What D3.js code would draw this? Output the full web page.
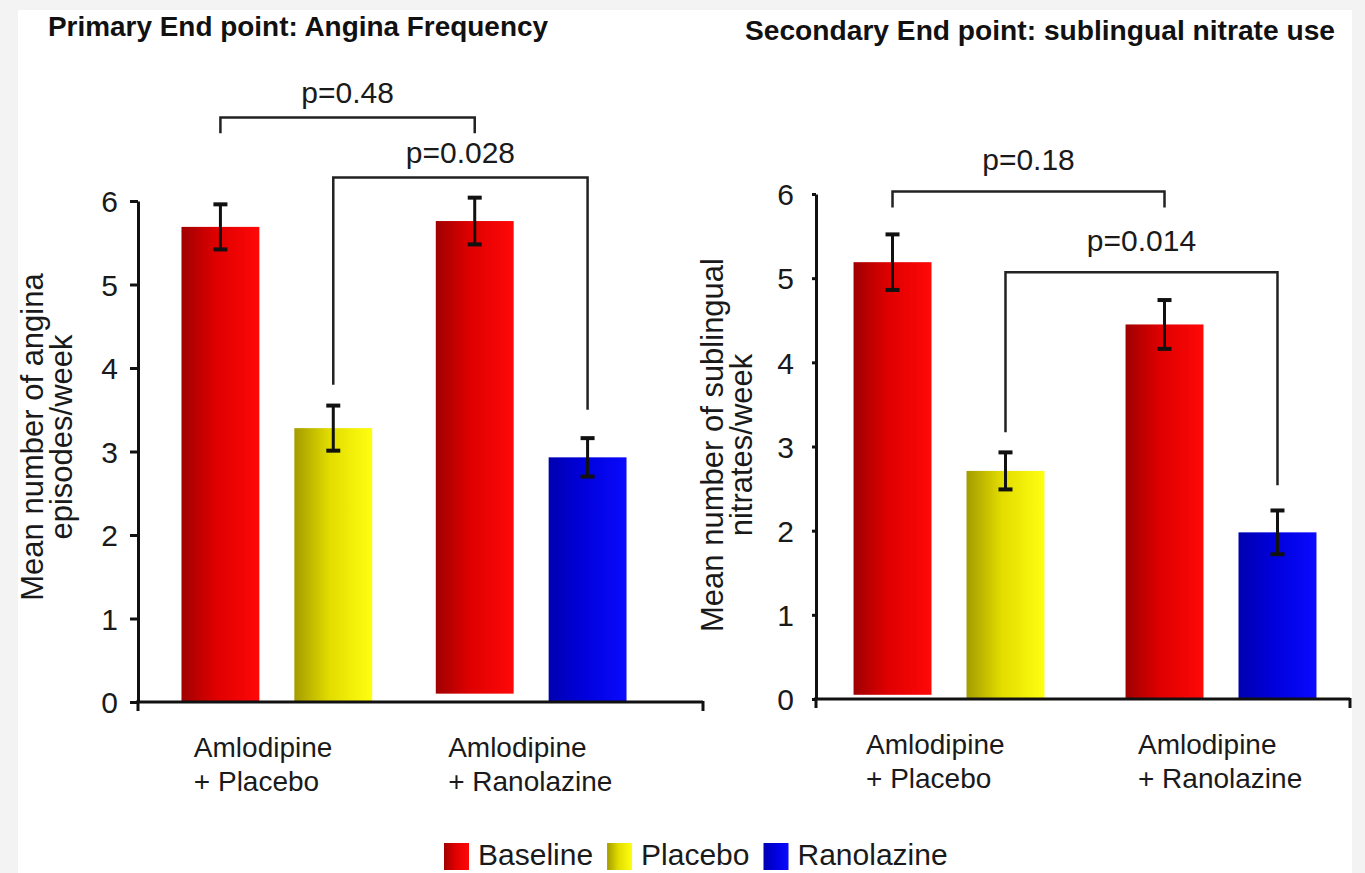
<!DOCTYPE html>
<html>
<head>
<meta charset="utf-8">
<script src="https://cdn.jsdelivr.net/npm/d3@7"></script>
<style>
  body { margin: 0; background: #f3f3f3; }
  svg { display: block; font-family: "Liberation Sans", Arial, sans-serif; }
  .axis path, .axis line { stroke: #111; stroke-width: 3; }
  .axis text { font-size: 30px; fill: #1a1a1a; }
</style>
</head>
<body>
<svg id="chart"></svg>
<script>
// ---- data ----
const groupLabels = [['Amlodipine', '+ Placebo'], ['Amlodipine', '+ Ranolazine']];
const seriesNames = ['Baseline', 'Placebo', 'Ranolazine'];
const barSeries = ['Baseline', 'Placebo', 'Baseline', 'Ranolazine'];
const barGroup = [0, 0, 1, 1];
const barSlot = ['a', 'b', 'a', 'b'];
const yTicks = [0, 1, 2, 3, 4, 5, 6];

// Primary end point: angina episodes / week
const anginaMeans = [5.69, 3.28, 5.76, 2.93];
const anginaErrors = [0.27, 0.27, 0.28, 0.23];
const anginaBarBase = [0, 0, 0.1, 0];
const anginaPValues = ['p=0.48', 'p=0.028'];
const anginaPairs = [[0, 2], [1, 3]];
const anginaBracketLevel = [7.0, 6.28];
const anginaBracketEnds = [[6.81, 6.81], [3.8, 3.5]];

// Secondary end point: sublingual nitrates / week
const nitrateMeans = [5.19, 2.71, 4.45, 1.98];
const nitrateErrors = [0.33, 0.22, 0.29, 0.26];
const nitrateBarBase = [0.05, 0, 0, 0];
const nitratePValues = ['p=0.18', 'p=0.014'];
const nitratePairs = [[0, 2], [1, 3]];
const nitrateBracketLevel = [6.03, 5.07];
const nitrateBracketEnds = [[5.84, 5.84], [3.17, 2.54]];

const W = 1365, H = 873;
const svg = d3.select('#chart').attr('width', W).attr('height', H);

svg.append('rect').attr('x', 18).attr('y', 10).attr('width', 1334).attr('height', H - 10).attr('fill', '#fff');

// gradients (dark on the left, bright on the right)
const colorStops = {
  Baseline: ['#a00000', '#e00000', '#ff0808'],
  Placebo: ['#a39c00', '#e2dc00', '#ffff10'],
  Ranolazine: ['#0000b0', '#0000dc', '#0a0aff']
};
const defs = svg.append('defs');
seriesNames.forEach(s => {
  const g = defs.append('linearGradient').attr('id', 'grad-' + s).attr('x1', 0).attr('x2', 1).attr('y1', 0).attr('y2', 0);
  g.append('stop').attr('offset', '0%').attr('stop-color', colorStops[s][0]);
  g.append('stop').attr('offset', '45%').attr('stop-color', colorStops[s][1]);
  g.append('stop').attr('offset', '100%').attr('stop-color', colorStops[s][2]);
});

function drawPanel(cfg) {
  const y = d3.scaleLinear().domain([0, 6]).range([cfg.y0, cfg.y6]);
  const x0 = d3.scaleBand().domain([0, 1]).range(cfg.xRange)
    .paddingInner(cfg.padInner).paddingOuter(cfg.padOuter);
  const x1 = d3.scaleBand().domain(['a', 'b']).range([0, x0.bandwidth()]).paddingInner(0.31);
  const cx = i => x0(barGroup[i]) + x1(barSlot[i]) + x1.bandwidth() / 2;

  const g = svg.append('g');

  // title
  g.append('text')
    .attr('x', cfg.titleX).attr('y', cfg.titleY)
    .attr('font-size', 28).attr('font-weight', 'bold').attr('fill', '#111')
    .attr('textLength', cfg.titleLen).attr('lengthAdjust', 'spacingAndGlyphs')
    .text(cfg.title);

  // bars
  g.append('g').selectAll('rect')
    .data(cfg.means)
    .join('rect')
      .attr('x', (d, i) => x0(barGroup[i]) + x1(barSlot[i]))
      .attr('width', x1.bandwidth())
      .attr('y', d => y(d))
      .attr('height', (d, i) => y(cfg.base[i]) - y(d))
      .attr('fill', (d, i) => `url(#grad-${barSeries[i]})`);

  // error bars
  const eb = g.append('g').attr('stroke', '#111').attr('stroke-width', 3);
  cfg.means.forEach((m, i) => {
    const c = cx(i), e = cfg.errors[i];
    eb.append('line').attr('x1', c).attr('x2', c).attr('y1', y(m + e)).attr('y2', y(m - e));
    eb.append('line').attr('x1', c - 7).attr('x2', c + 7).attr('y1', y(m + e)).attr('y2', y(m + e)).attr('stroke-width', 4);
    eb.append('line').attr('x1', c - 7).attr('x2', c + 7).attr('y1', y(m - e)).attr('y2', y(m - e)).attr('stroke-width', 4);
  });

  // y axis
  const yAxis = d3.axisLeft(y).tickValues(yTicks).tickFormat(d3.format('d'))
    .tickSize(cfg.tickSize).tickSizeOuter(0).tickPadding(cfg.tickPad);
  const yAxisG = g.append('g').attr('class', 'axis')
    .attr('transform', `translate(${cfg.xRange[0]},0)`)
    .call(yAxis);
  yAxisG.selectAll('text').attr('dy', '0.36em');

  // x axis line with small end ticks
  const xa = g.append('g').attr('stroke', '#111').attr('stroke-width', 3);
  xa.append('line').attr('x1', cfg.xRange[0] - 2).attr('x2', cfg.xEnd).attr('y1', y(0)).attr('y2', y(0));
  xa.append('line').attr('x1', cfg.xRange[0]).attr('x2', cfg.xRange[0]).attr('y1', y(0)).attr('y2', y(0) + 9);
  xa.append('line').attr('x1', cfg.xEnd).attr('x2', cfg.xEnd).attr('y1', y(0) - 1).attr('y2', y(0) + 9);

  // group labels
  groupLabels.forEach((lines, k) => {
    const lx = x0(k) + x0.bandwidth() / 2 - 83;
    const t = g.append('text')
      .attr('x', lx)
      .attr('y', y(0) + 55)
      .attr('font-size', 28).attr('fill', '#1a1a1a');
    lines.forEach((ln, j) => t.append('tspan').attr('x', lx).attr('dy', j ? 34 : 0).text(ln));
  });

  // y-axis title
  const yt = g.append('text')
    .attr('transform', `translate(${cfg.yTitleX},${cfg.yTitleY}) rotate(-90)`)
    .attr('text-anchor', 'middle').attr('font-size', 31).attr('fill', '#1a1a1a');
  cfg.yTitle.forEach((ln, j) => yt.append('tspan').attr('x', 0).attr('dy', j ? 29 : 0).text(ln));

  // significance brackets
  const br = g.append('g').attr('stroke', '#222').attr('stroke-width', 2.5).attr('fill', 'none');
  cfg.pairs.forEach((p, k) => {
    const xa1 = cx(p[0]), xb1 = cx(p[1]), ly = y(cfg.level[k]);
    br.append('path').attr('d', `M${xa1},${y(cfg.ends[k][0])}V${ly}H${xb1}V${y(cfg.ends[k][1])}`);
    g.append('text')
      .attr('x', (xa1 + xb1) / 2).attr('y', ly - cfg.pGap)
      .attr('text-anchor', 'middle').attr('font-size', 30).attr('fill', '#1a1a1a')
      .text(cfg.pValues[k]);
  });
}

drawPanel({
  title: 'Primary End point: Angina Frequency', titleX: 48, titleY: 36, titleLen: 500,
  y0: 702, y6: 201, xRange: [138, 670], xEnd: 703, padInner: 0.25, padOuter: 0.171,
  tickSize: 8, tickPad: 12,
  means: anginaMeans, errors: anginaErrors, base: anginaBarBase,
  pairs: anginaPairs, level: anginaBracketLevel, ends: anginaBracketEnds, pValues: anginaPValues, pGap: 15,
  yTitle: ['Mean number of angina', 'episodes/week'], yTitleX: 43, yTitleY: 437
});

drawPanel({
  title: 'Secondary End point: sublingual nitrate use', titleX: 745, titleY: 40, titleLen: 590,
  y0: 699, y6: 194, xRange: [816, 1354], xEnd: 1350, padInner: 0.298, padOuter: 0.138,
  tickSize: 4, tickPad: 18,
  means: nitrateMeans, errors: nitrateErrors, base: nitrateBarBase,
  pairs: nitratePairs, level: nitrateBracketLevel, ends: nitrateBracketEnds, pValues: nitratePValues, pGap: 21,
  yTitle: ['Mean number of sublingual', 'nitrates/week'], yTitleX: 723, yTitleY: 445
});

// legend
const legend = svg.append('g').attr('transform', 'translate(444,0)');
let lx = 0;
seriesNames.forEach(s => {
  legend.append('rect').attr('x', lx).attr('y', 843).attr('width', 25).attr('height', 27).attr('fill', `url(#grad-${s})`);
  const t = legend.append('text').attr('x', lx + 34).attr('y', 865)
    .attr('font-size', 30).attr('fill', '#1a1a1a').text(s);
  lx += 34 + t.node().getComputedTextLength() + 14;
});
</script>
</body>
</html>
